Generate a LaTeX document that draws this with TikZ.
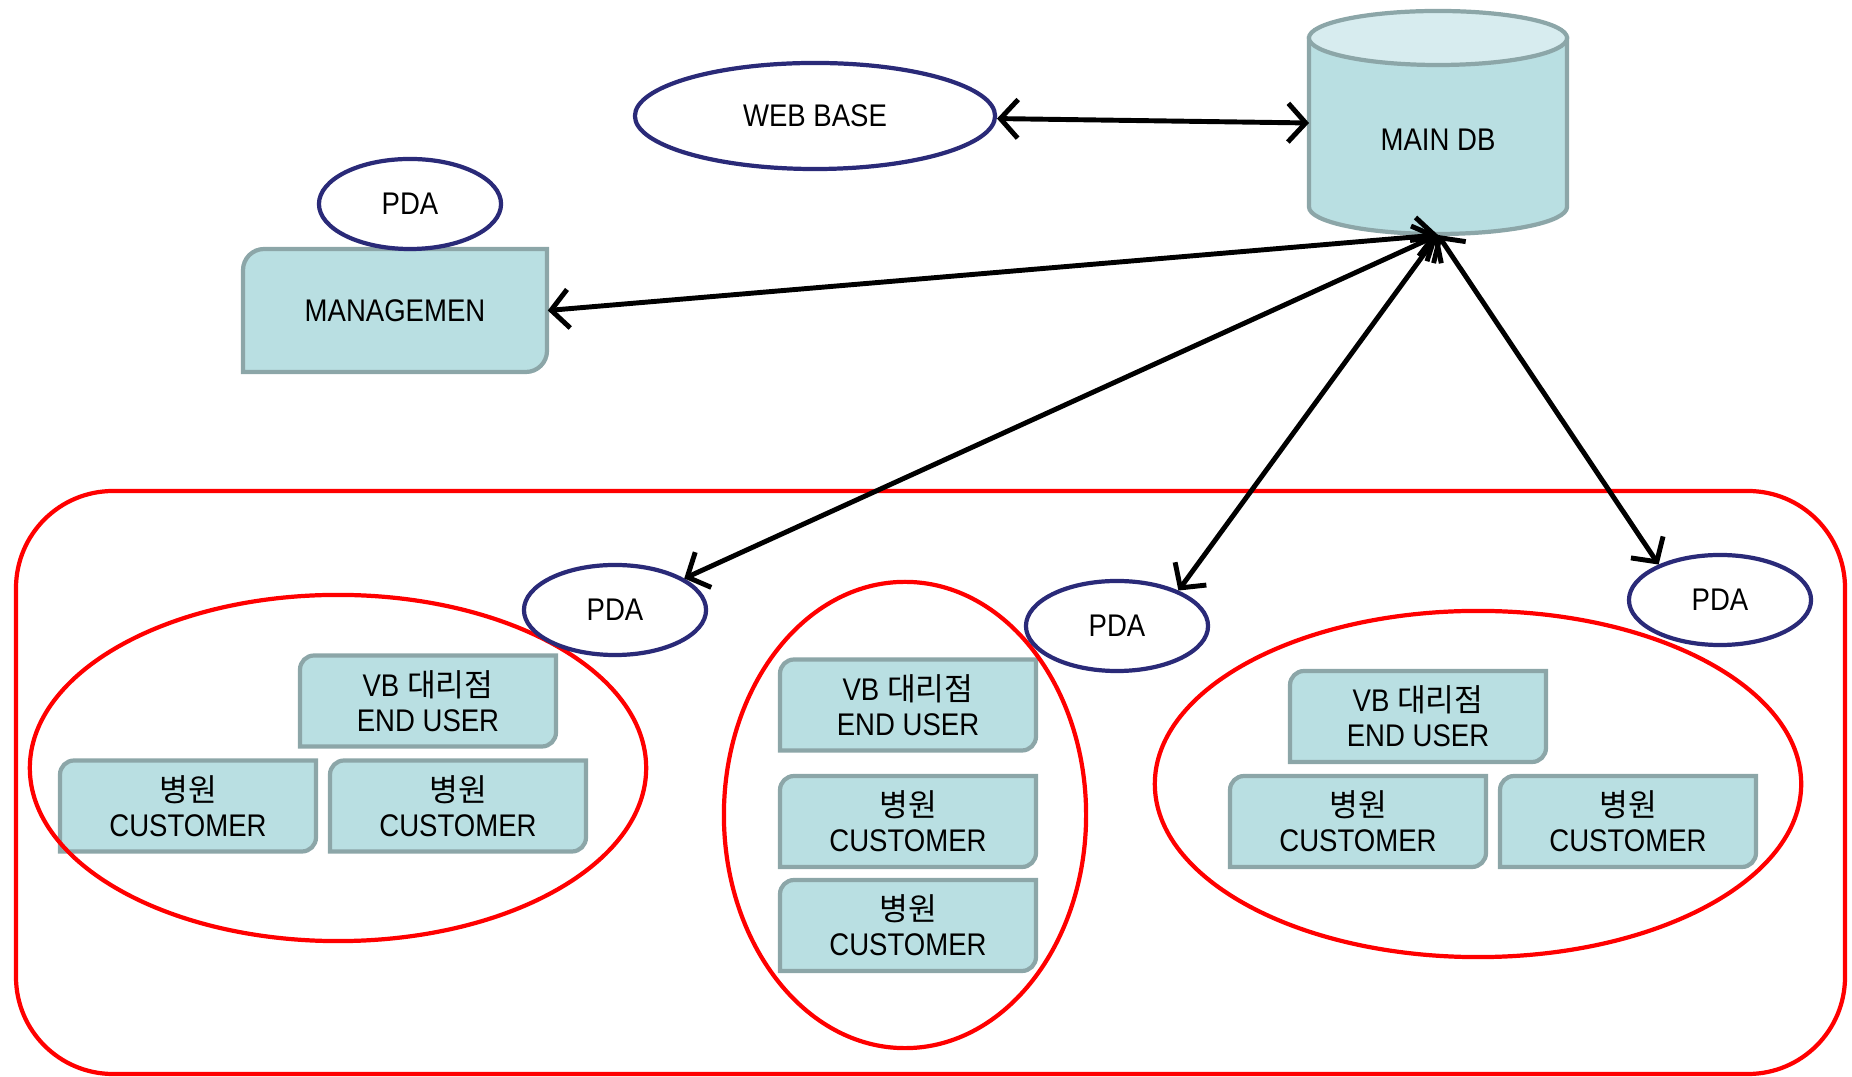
\documentclass[tikz,border=0pt]{standalone}
\usepackage{fontspec}
\setmainfont{Liberation Sans}[FakeStretch=0.88]
\newfontfamily\kr{Noto Sans CJK KR}
\usetikzlibrary{shapes.geometric,arrows.meta}

\definecolor{tealfill}{HTML}{B9DFE2}
\definecolor{tealline}{HTML}{8CA6A8}
\definecolor{dbtop}{HTML}{D7ECEF}
\definecolor{pdaline}{HTML}{2A2A78}
\definecolor{grpred}{HTML}{FF0000}

% box with two rounded corners: [radius]{x}{y}{half width}{half height}
\newcommand{\tealbox}[5][4pt]{%
  \filldraw[boxline] (#2-#4,#3) [rounded corners=#1] -- (#2-#4,#3-#5) [sharp corners] -- (#2+#4,#3-#5)
    [rounded corners=#1] -- (#2+#4,#3+#5) [sharp corners] -- (#2-#4,#3+#5) -- cycle;
}

\begin{document}
\begin{tikzpicture}[x=0.01cm, y=-0.01cm,
  every node/.style={font=\fontsize{8.9pt}{10pt}\selectfont},
  boxline/.style={fill=tealfill, draw=tealline, line width=1.2pt},
  boxtext/.style={align=center, minimum width=2.56cm, minimum height=0.91cm, inner sep=0pt},
  pda/.style={ellipse, draw=pdaline, line width=1.2pt, fill=white, minimum width=1.82cm, minimum height=0.9cm, inner sep=0pt},
  grp/.style={draw=grpred, line width=1.2pt},
  link/.style={{Straight Barb[length=5pt,width=11pt]}-{Straight Barb[length=5pt,width=11pt]}, line width=1.4pt}]

\useasboundingbox (0,0) rectangle (1852,1077);

\def\bw{128}; % box half width
\def\bh{45.5}; % box half height

% main db
\filldraw[boxline] (1309,38) -- (1309,207) .. controls (1309,222) and (1367,234) .. (1438,234)
  .. controls (1509,234) and (1567,222) .. (1567,207) -- (1567,38) -- cycle;
\filldraw[fill=dbtop, draw=tealline, line width=1.2pt] (1438,38) ellipse [x radius=1.29cm, y radius=0.27cm];
\node (db) at (1438,140) {MAIN DB};
\coordinate (dbw) at (1309,123);
\coordinate (dbs) at (1438,235);

% web base
\node[pda, minimum width=3.6cm, minimum height=1.06cm] (web) at (815,116) {WEB BASE};

% management
\tealbox[6pt]{395}{310.5}{152}{61.5}
\node[boxtext, minimum width=3.04cm, minimum height=1.23cm] (mgmt) at (395,310.5) {MANAGEMEN};
\node[pda] (pdam) at (410,204) {PDA};

% customer group
\draw[grp, rounded corners=0.97cm] (16,491) rectangle (1845,1074);

\tealbox{428}{701}{\bw}{\bh}
\node[boxtext] (lvb) at (428,701) {VB {\kr 대리점}\\END USER};
\tealbox{188}{806}{\bw}{\bh}
\node[boxtext] (lc1) at (188,806) {{\kr 병원}\\CUSTOMER};
\tealbox{458}{806}{\bw}{\bh}
\node[boxtext] (lc2) at (458,806) {{\kr 병원}\\CUSTOMER};

\tealbox{908}{705}{\bw}{\bh}
\node[boxtext] (mvb) at (908,705) {VB {\kr 대리점}\\END USER};
\tealbox{908}{821.5}{\bw}{\bh}
\node[boxtext] (mc1) at (908,821.5) {{\kr 병원}\\CUSTOMER};
\tealbox{908}{925.5}{\bw}{\bh}
\node[boxtext] (mc2) at (908,925.5) {{\kr 병원}\\CUSTOMER};

\tealbox{1418}{716.5}{\bw}{\bh}
\node[boxtext] (rvb) at (1418,716.5) {VB {\kr 대리점}\\END USER};
\tealbox{1358}{821.5}{\bw}{\bh}
\node[boxtext] (rc1) at (1358,821.5) {{\kr 병원}\\CUSTOMER};
\tealbox{1628}{821.5}{\bw}{\bh}
\node[boxtext] (rc2) at (1628,821.5) {{\kr 병원}\\CUSTOMER};

\draw[grp] (338,768) ellipse [x radius=3.08cm, y radius=1.73cm];
\draw[grp] (905,815) ellipse [x radius=1.81cm, y radius=2.33cm];
\draw[grp] (1478,784) ellipse [x radius=3.23cm, y radius=1.73cm];

\node[pda] (pda1) at (615,610) {PDA};
\node[pda] (pda2) at (1117,626) {PDA};
\node[pda] (pda3) at (1720,600) {PDA};

% links
\draw[link] (web) -- (dbw);
\draw[link] (mgmt.east) -- (dbs);
\draw[link] (dbs) -- (pda1);
\draw[link] (dbs) -- (pda2.30);
\draw[link] (dbs) -- (pda3.150);

\end{tikzpicture}
\end{document}
